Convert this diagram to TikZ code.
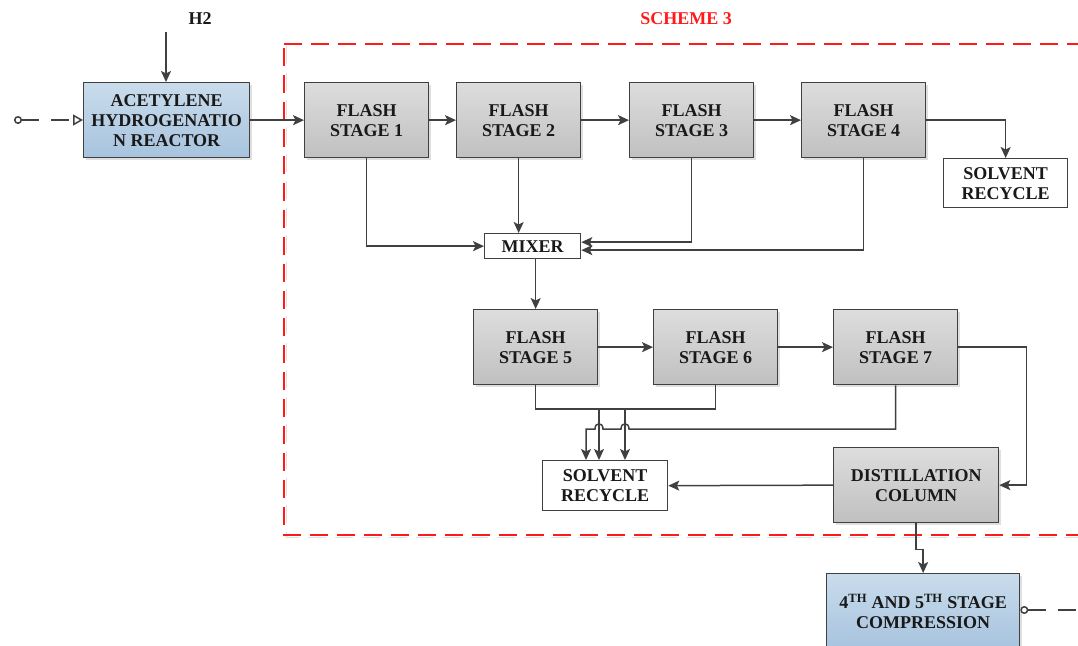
\documentclass[tikz,border=0pt]{standalone}
\usepackage{fontspec}
\newfontfamily\diagfont{Liberation Serif}
\usetikzlibrary{arrows.meta,shadows,calc}

\definecolor{linec}{HTML}{404040}
\definecolor{grayT}{HTML}{DDDDDD}
\definecolor{grayB}{HTML}{C0C0C0}
\definecolor{blueT}{HTML}{C9DCEC}
\definecolor{blueB}{HTML}{A7C3DE}
\definecolor{schemered}{HTML}{FF1A1A}

\begin{document}
\begin{tikzpicture}[x=1pt,y=-1pt,
  lbl/.style={font=\diagfont\bfseries\fontsize{18}{20}\selectfont, align=center, text=black!90},
  basebox/.style={lbl, draw=linec, line width=1.3pt, inner sep=0pt, anchor=north west},
  graybox/.style={basebox, top color=grayT, bottom color=grayB,
    minimum width=124pt, minimum height=75pt,
    drop shadow={shadow xshift=2.5pt, shadow yshift=-2.5pt, fill=black!25, opacity=0.5}},
  bluebox/.style={basebox, top color=blueT, bottom color=blueB,
    drop shadow={shadow xshift=2.5pt, shadow yshift=-2.5pt, fill=black!25, opacity=0.5}},
  whitebox/.style={basebox, fill=white},
  flow/.style={draw=linec, line width=1.5pt},
  arr/.style={flow, -{Stealth[length=11pt, width=10pt, inset=2.5pt]}},
  feed/.style={draw=linec, line width=1.5pt, dash pattern=on 18pt off 12pt},
]
\useasboundingbox (0,0) rectangle (1078,645);

% scheme boundary
\draw[black!12, line width=1.5pt, dash pattern=on 18pt off 9pt] (286,46.5) -| (286.5,537.5) -- (1100,537.5);
\draw[schemered, line width=1.3pt, dash pattern=on 18pt off 9pt] (284,44) -- (1100,44) -- (1100,535) -- (284,535) -- cycle;
\node[lbl, text=schemered] (scheme) at (686,19) {SCHEME 3};

% upstream reactor
\node[bluebox, minimum width=166pt, minimum height=75pt] (rx) at (83,82) {ACETYLENE\\HYDROGENATIO\\N REACTOR};
\node[lbl] (h2) at (200,19) {H2};
\coordinate (h2in) at (166,32);
\draw[arr] (h2in) -- (h2in |- rx.north);
\coordinate (feedin) at (14,120);
\draw[feed, {Circle[open, length=8pt, width=8pt]}-{Triangle[open, length=10pt, width=11pt]}] (feedin) -- (feedin -| rx.west);

% first flash train
\node[graybox] (f1) at (304,82) {FLASH\\STAGE 1};
\node[graybox] (f2) at (456,82) {FLASH\\STAGE 2};
\node[graybox] (f3) at (629,82) {FLASH\\STAGE 3};
\node[graybox] (f4) at (801,82) {FLASH\\STAGE 4};
\node[whitebox, minimum width=124pt, minimum height=49pt] (sr1) at (943,158) {SOLVENT\\RECYCLE};
\node[whitebox, minimum width=96pt, minimum height=25pt] (mix) at (484,233) {MIXER};

\draw[arr] (rx.east) -- (f1.west);
\draw[arr] (f1.east) -- (f2.west);
\draw[arr] (f2.east) -- (f3.west);
\draw[arr] (f3.east) -- (f4.west);
\draw[arr] (f4.east) -| (sr1.north);

\draw[arr] (f1.south) |- (mix.west);
\draw[arr] (f2.south) -- (f2.south |- mix.north);
\draw[arr] (f3.south) |- ([yshift=4pt]mix.east);
\draw[arr] (f4.south) |- ([yshift=-4pt]mix.east);

% second flash train
\node[graybox] (f5) at (473,309) {FLASH\\STAGE 5};
\node[graybox] (f6) at (653,309) {FLASH\\STAGE 6};
\node[graybox] (f7) at (833,309) {FLASH\\STAGE 7};
\node[graybox, minimum width=165pt] (dc) at (833,447) {DISTILLATION\\COLUMN};
\node[whitebox, minimum width=125pt, minimum height=50pt] (sr2) at (542,460) {SOLVENT\\RECYCLE};

\draw[arr] (f5.north |- mix.south) -- (f5.north);
\draw[arr] (f5.east) -- (f6.west);
\draw[arr] (f6.east) -- (f7.west);
\draw[arr] (f7.east) -- ++(68,0) |- (dc.east);
\draw[arr] (dc.west) -- (sr2.east);

% liquid draws to solvent recycle
\coordinate (ja) at (599,409);
\coordinate (jb) at (625,409);
\coordinate (jc) at (586,429);
\draw[flow] (f5.south) |- (ja) -| (f6.south);
\draw[arr] (ja) -- (ja |- sr2.north);
\draw[arr] (jb) -- (jb |- sr2.north);
\draw[arr] (f7.south) |- (629,429) .. controls (629,422) and (621,422) .. (621,429)
  -- (603,429) .. controls (603,422) and (595,422) .. (595,429)
  -- (jc) -- (jc |- sr2.north);

% compression
\node[bluebox, minimum width=193pt, minimum height=76pt] (comp) at (826,573)
  {4\textsuperscript{TH} AND 5\textsuperscript{TH} STAGE\\COMPRESSION};
\draw[arr] (dc.south) -- ++(0,26) -| (comp.north);
\coordinate (prodout) at (1095,610);
\draw[feed, {Circle[open, length=8pt, width=8pt]}-{Triangle[open, length=10pt, width=11pt]}] (comp.east |- prodout) -- (prodout);
\end{tikzpicture}
\end{document}
